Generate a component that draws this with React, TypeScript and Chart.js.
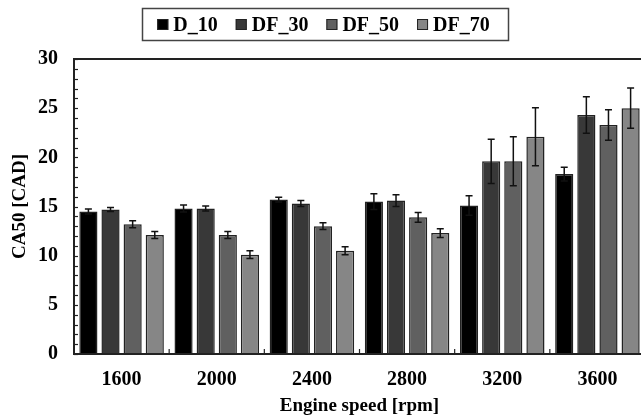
import React, { useEffect, useRef } from "react";
import { Chart, registerables } from "chart.js";

Chart.register(...registerables);

const categories = ["1600", "2000", "2400", "2800", "3200", "3600"];
const seriesNames = ["D_10", "DF_30", "DF_50", "DF_70"];
const d10 = [14.5, 14.8, 15.7, 15.5, 15.1, 18.3];
const df30 = [14.7, 14.8, 15.3, 15.6, 19.6, 24.3];
const df50 = [13.2, 12.1, 13.0, 13.9, 19.6, 23.3];
const df70 = [12.1, 10.1, 10.5, 12.3, 22.1, 25.0];
const d10Err = [0.25, 0.35, 0.25, 0.8, 1.0, 0.7];
const df30Err = [0.2, 0.25, 0.3, 0.6, 2.25, 1.85];
const df50Err = [0.35, 0.35, 0.35, 0.5, 2.5, 1.55];
const df70Err = [0.35, 0.4, 0.4, 0.45, 2.95, 2.05];
const yTicks = [0, 5, 10, 15, 20, 25, 30];

const seriesValues = [d10, df30, df50, df70];
const seriesErrors = [d10Err, df30Err, df50Err, df70Err];
const seriesColors = ["#000000", "#383838", "#606060", "#868686"];

const FONT = '"Liberation Serif", "Times New Roman", serif';

const framePlugin = {
  id: "frameAndErrors",
  afterDatasetsDraw(chart: any) {
    const { ctx, chartArea } = chart;
    const x = chart.scales.x;
    const y = chart.scales.y;
    ctx.save();
    // error bars
    ctx.strokeStyle = "#111";
    ctx.lineWidth = 1.5;
    chart.data.datasets.forEach((ds: any, di: number) => {
      const meta = chart.getDatasetMeta(di);
      meta.data.forEach((bar: any, i: number) => {
        const v = ds.data[i];
        const e = ds.errors[i];
        const px = bar.x;
        const yt = y.getPixelForValue(v + e);
        const yb = y.getPixelForValue(v - e);
        ctx.beginPath();
        ctx.moveTo(px, yt);
        ctx.lineTo(px, yb);
        ctx.moveTo(px - 3.5, yt);
        ctx.lineTo(px + 3.5, yt);
        ctx.moveTo(px - 3.5, yb);
        ctx.lineTo(px + 3.5, yb);
        ctx.stroke();
      });
    });
    // inner ticks on y
    ctx.strokeStyle = "#222";
    ctx.lineWidth = 1.2;
    for (let v = y.min; v <= y.max; v += 1) {
      const py = Math.round(y.getPixelForValue(v)) + 0.5;
      ctx.beginPath();
      ctx.moveTo(chartArea.left, py);
      ctx.lineTo(chartArea.left + 4, py);
      ctx.stroke();
    }
    // inner ticks on x at category boundaries
    const n = chart.data.labels.length;
    const cw = (chartArea.right - chartArea.left) / n;
    for (let i = 1; i < n; i++) {
      const px = chartArea.left + cw * i;
      ctx.beginPath();
      ctx.moveTo(px, chartArea.bottom);
      ctx.lineTo(px, chartArea.bottom - 5);
      ctx.stroke();
    }
    // frame
    ctx.strokeStyle = "#222";
    ctx.lineWidth = 2;
    ctx.strokeRect(
      chartArea.left,
      chartArea.top,
      chartArea.right - chartArea.left,
      chartArea.bottom - chartArea.top
    );
    ctx.restore();
  },
  afterDraw(chart: any) {
    const { ctx } = chart;
    ctx.save();
    ctx.font = `bold 20px ${FONT}`;
    ctx.textBaseline = "middle";
    ctx.textAlign = "left";
    const sq = 11;
    const gap = 5;
    const itemGap = 18;
    const widths = chart.data.datasets.map((d: any) => ctx.measureText(d.label).width);
    const total =
      widths.reduce((a: number, b: number) => a + b + sq + gap, 0) + itemGap * (widths.length - 1);
    const cx = 325.5;
    const cy = 24.5;
    const boxW = 366;
    const boxH = 32;
    ctx.strokeStyle = "#444";
    ctx.lineWidth = 1.5;
    ctx.strokeRect(cx - boxW / 2, cy - boxH / 2, boxW, boxH);
    let px = cx - total / 2 - 2;
    chart.data.datasets.forEach((d: any, i: number) => {
      ctx.fillStyle = d.backgroundColor;
      ctx.fillRect(px, cy - sq / 2, sq, sq);
      ctx.strokeStyle = "#222";
      ctx.lineWidth = 1;
      ctx.strokeRect(px + 0.5, cy - sq / 2 + 0.5, sq - 1, sq - 1);
      ctx.fillStyle = "#000";
      ctx.fillText(d.label, px + sq + gap, cy + 1);
      px += sq + gap + widths[i] + itemGap;
    });
    ctx.restore();
  },
};

export default function App() {
  const ref = useRef<HTMLCanvasElement | null>(null);
  useEffect(() => {
    if (!ref.current) return;
    Chart.defaults.font.family = FONT;
    Chart.defaults.font.weight = "bold" as any;
    Chart.defaults.color = "#000";
    const chart = new Chart(ref.current, {
      type: "bar",
      data: {
        labels: categories,
        datasets: seriesNames.map((name, i) => ({
          label: name,
          data: seriesValues[i],
          errors: seriesErrors[i],
          backgroundColor: seriesColors[i],
          borderColor: "#222",
          borderWidth: 1.5,
          categoryPercentage: 0.93,
          barPercentage: 0.82,
        })) as any,
      },
      options: {
        animation: false,
        responsive: false,
        maintainAspectRatio: false,
        layout: { padding: { top: 59, right: 7, left: 0, bottom: 0 } },
        plugins: { legend: { display: false }, tooltip: { enabled: false } },
        scales: {
          x: {
            grid: { display: false, drawTicks: false },
            border: { display: false },
            ticks: { font: { size: 20, weight: "bold" }, padding: 14, color: "#000" },
            title: {
              display: true,
              text: "Engine speed [rpm]",
              font: { size: 19, weight: "bold" },
              padding: { top: 0, bottom: 1 },
              color: "#000",
            },
            afterFit: (s: any) => {
              s.height = 64;
            },
          },
          y: {
            min: 0,
            max: 30,
            afterBuildTicks: (s: any) => {
              s.ticks = yTicks.map((v) => ({ value: v }));
            },
            grid: { display: false, drawTicks: false },
            border: { display: false },
            ticks: { font: { size: 20, weight: "bold" }, padding: 16, color: "#000" },
            title: {
              display: true,
              text: "CA50 [CAD]",
              font: { size: 19, weight: "bold" },
              padding: { top: 9, bottom: 0 },
              color: "#000",
            },
            afterFit: (s: any) => {
              s.width = 74;
            },
          },
        },
      },
      plugins: [framePlugin],
    });
    return () => chart.destroy();
  }, []);
  return (
    <div
      style={{
        position: "fixed",
        left: 0,
        top: 0,
        width: 641,
        height: 418,
        overflow: "hidden",
        background: "#fff",
      }}
    >
      <canvas ref={ref} width={652} height={418} style={{ width: 652, height: 418, display: "block" }} />
    </div>
  );
}
